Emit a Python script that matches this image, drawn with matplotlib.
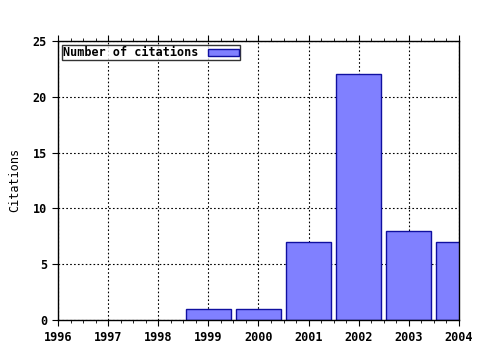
import matplotlib.pyplot as plt
from matplotlib.ticker import MultipleLocator, AutoMinorLocator

years = [1999, 2000, 2001, 2002, 2003, 2004]
citations = [1, 1, 7, 22, 8, 7]
xticks = [1996, 1997, 1998, 1999, 2000, 2001, 2002, 2003, 2004]

plt.rcParams['font.family'] = 'DejaVu Sans Mono'
plt.rcParams['font.weight'] = 'bold'
plt.rcParams['font.size'] = 8.5

fig = plt.figure(figsize=(4.8, 3.5), dpi=100)
ax = fig.add_axes([0.121, 0.086, 0.835, 0.797])

ax.bar(years, citations, width=0.9, color='#8080ff', edgecolor='#1010a0',
       linewidth=1, label='Number of citations', zorder=3)

ax.set_xlim(1996, 2004)
ax.set_ylim(0, 25)
ax.set_xticks(xticks)
ax.set_xticklabels([str(y) for y in xticks])
ax.yaxis.set_major_locator(MultipleLocator(5))
ax.xaxis.set_minor_locator(AutoMinorLocator(4))
ax.tick_params(axis='x', which='both', direction='out', top=True, color='black')
ax.tick_params(axis='y', which='both', direction='out', right=False, color='black')
ax.tick_params(which='major', length=4, pad=4)
ax.tick_params(which='minor', length=2.5)
ax.grid(True, which='major', color='black', linestyle=(0, (1.5, 2)), linewidth=0.8, zorder=0)
for s in ax.spines.values():
    s.set_linewidth(1)
    s.set_zorder(4)

ax.set_ylabel('Citations', labelpad=8)

leg = ax.legend(loc='upper left', markerfirst=False, frameon=True, fancybox=False,
                borderpad=0.1, handlelength=2.6, handleheight=0.55,
                borderaxespad=0.35, handletextpad=0.8)
leg.get_frame().set_edgecolor('black')
leg.get_frame().set_linewidth(1)

fig.savefig('out.png', dpi=100)
